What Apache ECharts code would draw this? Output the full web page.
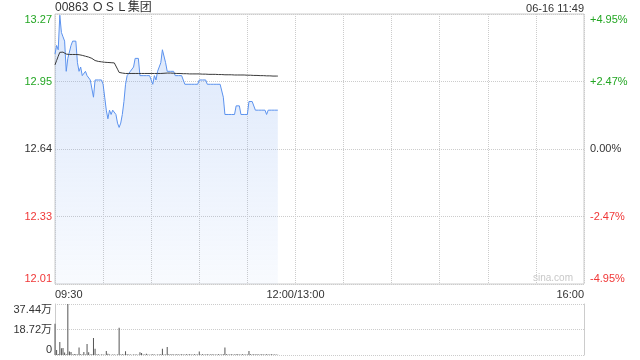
<!DOCTYPE html>
<html>
<head>
<meta charset="utf-8">
<script src="https://cdn.jsdelivr.net/npm/echarts@6/dist/echarts.min.js"></script>
<style>
html,body{margin:0;padding:0;background:#fff;}
#c{width:640px;height:360px;}
</style>
</head>
<body>
<div id="c"></div>
<script>
// ---- data ----
var titleText = '00863 ＯＳＬ集团';
var dateText = '06-16 11:49';
var prevClose = 12.64;
var pctRange = 4.95;
var priceLabels = ['12.01', '12.33', '12.64', '12.95', '13.27'];
var pctLabels = ['-4.95%', '-2.47%', '0.00%', '+2.47%', '+4.95%'];
var volLabels = ['0', '18.72万', '37.44万'];
var volMax = 374400;
var timeTickLabels = ['09:30', '', '', '', '', '12:00/13:00', '', '', '', '', '', '16:00'];
var totalMinutes = 330;

// minute-by-minute price (09:30 .. 11:49)
var prices = [
  13.08, 13.12, 13.10, 13.26, 13.18, 13.16, 13.14, 13.00, 13.06, 13.06,
  13.12, 13.14, 13.14, 13.14, 13.04, 13.00, 13.02, 12.98, 12.98, 13.00,
  12.98, 12.98, 12.96, 12.96, 12.88, 12.96, 12.96, 12.96, 12.96, 12.96,
  12.94, 12.88, 12.82, 12.78, 12.82, 12.80, 12.82, 12.82, 12.80, 12.76,
  12.74, 12.76, 12.80, 12.86, 12.94, 12.98, 12.98, 13.00, 13.00, 13.02,
  13.06, 13.06, 13.06, 12.98, 12.98, 12.98, 12.98, 12.98, 12.98, 12.98,
  12.98, 12.94, 12.98, 12.96, 13.00, 13.00, 13.04, 13.10, 13.10, 13.04,
  13.00, 13.00, 13.00, 13.00, 13.00, 12.98, 12.98, 12.98, 12.98, 12.98,
  12.98, 12.94, 12.94, 12.94, 12.94, 12.94, 12.94, 12.94, 12.94, 12.94,
  12.96, 12.96, 12.96, 12.96, 12.96, 12.94, 12.94, 12.94, 12.94, 12.94,
  12.94, 12.94, 12.94, 12.94, 12.94, 12.88, 12.80, 12.80, 12.80, 12.80,
  12.80, 12.80, 12.80, 12.84, 12.84, 12.84, 12.80, 12.80, 12.80, 12.80,
  12.80, 12.86, 12.86, 12.86, 12.86, 12.82, 12.82, 12.82, 12.82, 12.82,
  12.82, 12.82, 12.80, 12.82, 12.82, 12.82, 12.82, 12.82, 12.82, 12.82
];

// average price line
var avgPrices = [
  13.03, 13.05, 13.07, 13.088, 13.089, 13.089, 13.085, 13.080, 13.079, 13.078,
  13.078, 13.078, 13.078, 13.078, 13.077, 13.077, 13.076, 13.074, 13.072, 13.070,
  13.068, 13.066, 13.064, 13.060, 13.054, 13.050, 13.048, 13.046, 13.045, 13.044,
  13.043, 13.042, 13.042, 13.041, 13.041, 13.040, 13.040, 13.039, 13.034, 13.010,
  12.995, 12.993, 12.992, 12.991, 12.990, 12.990, 12.990, 12.990, 12.990, 12.990,
  12.990, 12.990, 12.990, 12.990, 12.990, 12.990, 12.990, 12.990, 12.990, 12.990,
  12.990, 12.990, 12.990, 12.990, 12.990, 12.990, 12.990, 12.991, 12.991, 12.991,
  12.992, 12.992, 12.992, 12.991, 12.991, 12.990, 12.990, 12.990, 12.990, 12.989,
  12.989, 12.989, 12.989, 12.988, 12.988, 12.988, 12.988, 12.988, 12.988, 12.988,
  12.988, 12.988, 12.987, 12.987, 12.987, 12.987, 12.986, 12.986, 12.986, 12.986,
  12.986, 12.985, 12.985, 12.985, 12.985, 12.985, 12.984, 12.984, 12.984, 12.984,
  12.984, 12.983, 12.983, 12.983, 12.983, 12.983, 12.983, 12.983, 12.983, 12.983,
  12.982, 12.982, 12.982, 12.982, 12.981, 12.981, 12.981, 12.981, 12.980, 12.980,
  12.980, 12.980, 12.979, 12.979, 12.979, 12.979, 12.978, 12.978, 12.978, 12.978
];

// minute volumes
var volumes = [
  230000, 37000, 8000, 95000, 50000, 52000, 18000, 6000, 374400, 25000,
  22000, 4000, 8000, 5000, 3000, 55000, 5000, 3000, 22000, 4000,
  80000, 20000, 3000, 5000, 125000, 45000, 3000, 5000, 2000, 3000,
  4000, 2000, 30000, 10000, 3000, 2000, 4000, 3000, 2000, 3000,
  200000, 4000, 6000, 3000, 28000, 5000, 3000, 4000, 2000, 3000,
  4000, 3000, 2000, 20000, 15000, 4000, 3000, 10000, 3000, 2000,
  4000, 6000, 3000, 2000, 3000, 4000, 5000, 45000, 3000, 4000,
  58000, 5000, 3000, 6000, 4000, 3000, 5000, 3000, 4000, 6000,
  3000, 4000, 5000, 3000, 6000, 3000, 4000, 5000, 3000, 4000,
  25000, 3000, 5000, 4000, 3000, 6000, 3000, 4000, 5000, 3000,
  4000, 3000, 5000, 4000, 3000, 6000, 55000, 5000, 3000, 4000,
  5000, 4000, 3000, 5000, 6000, 4000, 3000, 5000, 3000, 4000,
  3000, 30000, 5000, 3000, 6000, 4000, 5000, 4000, 3000, 5000,
  3000, 4000, 6000, 3000, 4000, 5000, 3000, 4000, 3000, 2000
];

// ---- chart ----
var GREEN = '#23a623', RED = '#f03737', DARK = '#333';
var FONT = '"Liberation Sans", Arial, "Noto Sans CJK SC", sans-serif';
var GRID_C = '#ccc';

function toPct(p) { return (p / prevClose - 1) * 100; }
var priceData = prices.map(function (p, i) { return [i, toPct(p)]; });
var avgData = avgPrices.map(function (p, i) { return [i, toPct(p)]; });
var volData = volumes.map(function (v, i) { return [i, v]; });
function pctIdx(v) { return Math.round((v + pctRange) / (pctRange / 2)); }
function pctColor(v) { v = +v; return v > 0.001 ? GREEN : (v < -0.001 ? RED : DARK); }

var chart = echarts.init(document.getElementById('c'), null, { renderer: 'canvas' });
chart.setOption({
  animation: false,
  textStyle: { fontFamily: FONT },
  grid: [
    { left: 55, right: 56, top: 14, height: 270, show: true, borderColor: GRID_C, borderWidth: 1, backgroundColor: 'transparent' },
    { left: 55, right: 56, top: 304, height: 51 }
  ],
  graphic: [
    { type: 'text', left: 55, top: 2, style: { text: titleText, fill: DARK, font: '12px ' + FONT } },
    { type: 'text', right: 56, top: 3, style: { text: dateText, fill: DARK, font: '11px ' + FONT } },
    { type: 'text', left: 533, top: 273, style: { text: 'sina.com', fill: '#c8c8c8', font: '10px ' + FONT } }
  ],
  xAxis: [
    {
      gridIndex: 0, type: 'value', min: 0, max: totalMinutes, interval: 30,
      axisLine: { show: false }, axisTick: { show: false },
      splitLine: { show: true, lineStyle: { color: GRID_C, type: 'dotted', width: 1 } },
      axisLabel: {
        show: true, color: DARK, fontSize: 11, margin: 5, fontFamily: FONT,
        alignMinLabel: 'left', alignMaxLabel: 'right',
        formatter: function (v) { return timeTickLabels[Math.round(v / 30)] || ''; }
      }
    },
    {
      gridIndex: 1, type: 'value', min: 0, max: totalMinutes, interval: 30,
      axisLine: { show: false }, axisTick: { show: false }, axisLabel: { show: false },
      splitLine: { show: false }
    }
  ],
  yAxis: [
    {
      gridIndex: 0, type: 'value', min: -pctRange, max: pctRange, interval: pctRange / 2,
      axisLine: { show: false }, axisTick: { show: false },
      splitLine: { show: true, lineStyle: { color: GRID_C, type: 'dotted', width: 1 } },
      axisLabel: {
        fontSize: 11, margin: 3, fontFamily: FONT,
        verticalAlignMinLabel: 'bottom', verticalAlignMaxLabel: 'top',
        color: pctColor,
        formatter: function (v) { return priceLabels[pctIdx(v)]; }
      }
    },
    {
      gridIndex: 0, type: 'value', position: 'right', min: -pctRange, max: pctRange, interval: pctRange / 2,
      axisLine: { show: false }, axisTick: { show: false }, splitLine: { show: false },
      axisLabel: {
        fontSize: 11, margin: 6, fontFamily: FONT,
        verticalAlignMinLabel: 'bottom', verticalAlignMaxLabel: 'top',
        color: pctColor,
        formatter: function (v) { return pctLabels[pctIdx(v)]; }
      }
    },
    {
      gridIndex: 1, type: 'value', min: 0, max: volMax, interval: volMax / 2,
      axisLine: { show: true, lineStyle: { color: GRID_C, width: 1 } }, axisTick: { show: false },
      splitLine: { show: true, lineStyle: { color: GRID_C, type: 'dotted', width: 1 } },
      axisLabel: {
        fontSize: 11, margin: 3, color: DARK, fontFamily: FONT,
        verticalAlignMinLabel: 'bottom', verticalAlignMaxLabel: 'top',
        formatter: function (v) { return volLabels[Math.round(v / (volMax / 2))]; }
      }
    },
    {
      gridIndex: 1, type: 'value', position: 'right', min: 0, max: volMax, interval: volMax / 2,
      axisLine: { show: true, onZero: false, lineStyle: { color: GRID_C, width: 1 } }, axisTick: { show: false },
      axisLabel: { show: false }, splitLine: { show: false }
    }
  ],
  series: [
    {
      type: 'line', xAxisIndex: 0, yAxisIndex: 0, data: priceData,
      showSymbol: false, symbol: 'none',
      lineStyle: { color: '#5b92ee', width: 1 },
      areaStyle: {
        origin: 'start',
        color: new echarts.graphic.LinearGradient(0, 0, 0, 1, [
          { offset: 0, color: 'rgba(120,165,240,0.38)' },
          { offset: 1, color: 'rgba(120,165,240,0.07)' }
        ])
      },
      z: 2
    },
    {
      type: 'line', xAxisIndex: 0, yAxisIndex: 0, data: avgData,
      showSymbol: false, symbol: 'none',
      lineStyle: { color: '#3a3a3a', width: 1 },
      z: 3
    },
    {
      type: 'bar', xAxisIndex: 1, yAxisIndex: 2, data: volData,
      barWidth: 1, itemStyle: { color: '#555' }
    }
  ]
});
</script>
</body>
</html>
